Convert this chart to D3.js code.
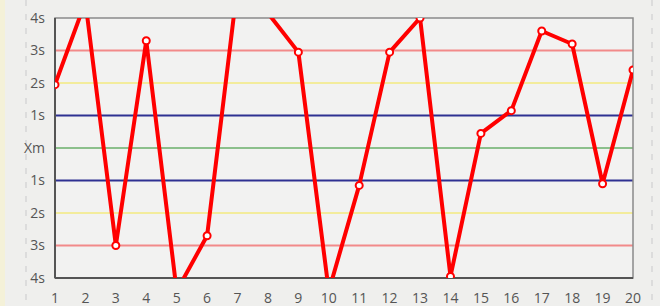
<!DOCTYPE html>
<html>
<head>
<meta charset="utf-8">
<script src="https://cdn.jsdelivr.net/npm/d3@7"></script>
<style>
  body { margin: 0; background: #efefed; }
  svg { display: block; font-family: 'Open Sans', sans-serif; }
</style>
</head>
<body>
<div id="chart"></div>
<script>
// samples 1..20, control limits in sigma
const samples = d3.range(1, 21)
const values = [1.95, 4.5, -3.0, 3.3, -4.4, -2.7, 5.0, 4.15, 2.95, -4.4,
  -1.15, 2.95, 4.0, -3.95, 0.45, 1.15, 3.6, 3.2, -1.1, 2.4]
const limits = [4, 3, 2, 1, 0, -1, -2, -3, -4]
const limitLabels = ['4s', '3s', '2s', '1s', 'Xm', '1s', '2s', '3s', '4s']
const limitColors = { 3: '#f28a8a', 2: '#f3ec9c', 1: '#2e3192', 0: '#8cc08c' }

const width = 660
const height = 306
const margin = { top: 18, right: 27, bottom: 28, left: 55 }

const svg = d3.select('#chart').append('svg')
  .attr('width', width)
  .attr('height', height)

// paper-ish background
svg.append('rect').attr('width', width).attr('height', height).attr('fill', '#efefed')
svg.append('rect').attr('width', 5).attr('height', height).attr('fill', '#f4f1d8')
svg.append('line')
  .attr('x1', 26).attr('x2', 26).attr('y1', 0).attr('y2', height)
  .attr('stroke', '#dcdcdc').attr('stroke-width', 2).attr('stroke-dasharray', '6,8')
svg.append('line')
  .attr('x1', 652).attr('x2', 652).attr('y1', 0).attr('y2', height)
  .attr('stroke', '#dcdcdc').attr('stroke-width', 2).attr('stroke-dasharray', '6,8')

const x = d3.scaleLinear().domain([1, 20]).range([margin.left, width - margin.right])
const y = d3.scaleLinear().domain([-4, 4]).range([height - margin.bottom, margin.top])

svg.append('rect')
  .attr('x', x(1)).attr('y', y(4))
  .attr('width', x(20) - x(1)).attr('height', y(-4) - y(4))
  .attr('fill', '#f2f2f1')

svg.append('defs').append('clipPath').attr('id', 'clip')
  .append('rect')
  .attr('x', x(1)).attr('y', y(4))
  .attr('width', x(20) - x(1)).attr('height', y(-4) - y(4))

// limit lines
svg.append('g').selectAll('line')
  .data(limits.filter((d) => Math.abs(d) < 4))
  .enter().append('line')
  .attr('x1', x(1)).attr('x2', x(20))
  .attr('y1', (d) => y(d)).attr('y2', (d) => y(d))
  .attr('stroke', (d) => limitColors[Math.abs(d)])
  .attr('stroke-width', 2)

// frame
svg.append('rect')
  .attr('x', x(1)).attr('y', y(4))
  .attr('width', x(20) - x(1)).attr('height', y(-4) - y(4))
  .attr('fill', 'none').attr('stroke', '#8a8a8a').attr('stroke-width', 1.5)
svg.append('line')
  .attr('x1', x(1)).attr('x2', x(1)).attr('y1', y(4)).attr('y2', y(-4))
  .attr('stroke', '#555').attr('stroke-width', 2)
svg.append('line')
  .attr('x1', x(1)).attr('x2', x(20)).attr('y1', y(-4)).attr('y2', y(-4))
  .attr('stroke', '#555').attr('stroke-width', 2)

// y labels
svg.append('g').selectAll('text')
  .data(limits)
  .enter().append('text')
  .attr('x', 45)
  .attr('y', (d) => y(d))
  .attr('dy', '0.35em')
  .attr('text-anchor', 'end')
  .attr('font-size', 14)
  .attr('fill', '#555')
  .text((d, i) => limitLabels[i])

// x labels
svg.append('g').selectAll('text')
  .data(samples)
  .enter().append('text')
  .attr('x', (d) => x(d))
  .attr('y', 298)
  .attr('dy', '0.35em')
  .attr('text-anchor', 'middle')
  .attr('font-size', 14)
  .attr('fill', '#555')
  .text((d) => d)

const pts = samples.map((s, i) => ({ s: s, v: values[i] }))
const g = svg.append('g').attr('clip-path', 'url(#clip)')

g.append('path')
  .datum(pts)
  .attr('fill', 'none')
  .attr('stroke', '#ff0000')
  .attr('stroke-width', 4)
  .attr('stroke-linejoin', 'round')
  .attr('d', d3.line().x((d) => x(d.s)).y((d) => y(d.v)))

g.selectAll('circle')
  .data(pts)
  .enter().append('circle')
  .attr('cx', (d) => x(d.s))
  .attr('cy', (d) => y(d.v))
  .attr('r', 3.5)
  .attr('fill', '#fff')
  .attr('stroke', '#ff0000')
  .attr('stroke-width', 2)
</script>
</body>
</html>
